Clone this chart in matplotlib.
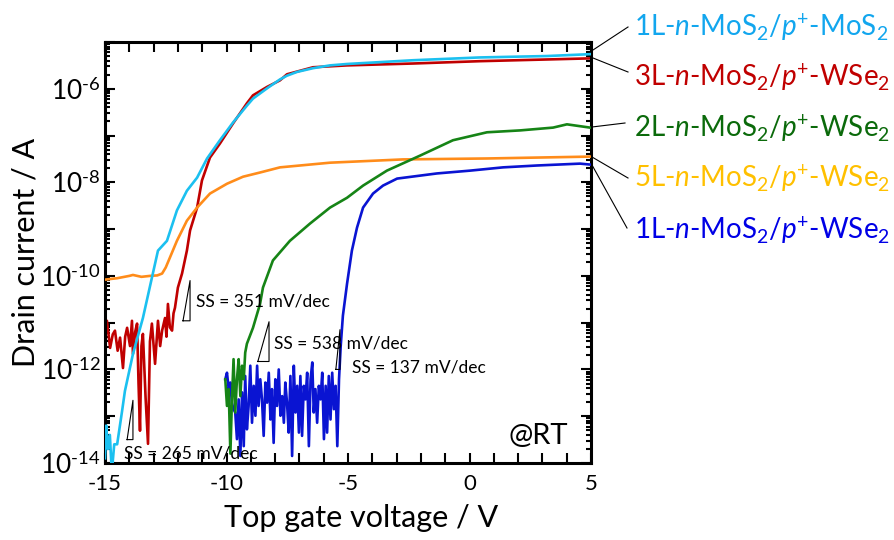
import numpy as np
import matplotlib
matplotlib.use("Agg")
import matplotlib.pyplot as plt
from matplotlib.ticker import LogLocator, FixedLocator, FuncFormatter, NullFormatter

FONT = "Lato"
plt.rcParams['font.family'] = [FONT, 'DejaVu Sans']
plt.rcParams['mathtext.fontset'] = 'custom'
plt.rcParams['mathtext.rm'] = FONT
plt.rcParams['mathtext.it'] = FONT + ':italic'
plt.rcParams['mathtext.bf'] = FONT + ':bold'
plt.rcParams['axes.unicode_minus'] = False

# ---------------- data (gate voltage V, log10 drain current A) ----------------
cyan_v = [-15.0, -14.95, -14.88, -14.8, -14.72, -14.62, -14.5, -14.3, -14.18, -13.85,
          -13.44, -13.07, -12.82, -12.45, -12.04, -11.63, -11.21, -10.8, -10.27, -9.73,
          -9.16, -8.91, -8.33, -7.8, -7.51, -7.1, -6.44, -5.74, -5.04, -3.68, -2.33, 0.43, 3.19, 4.96]
cyan_logi = [-13.9, -13.2, -13.7, -13.4, -14.2, -13.6, -13.6, -12.9, -12.46, -11.67,
             -10.9, -10.04, -9.46, -9.25, -8.6, -8.18, -7.9, -7.49, -7.1, -6.72,
             -6.36, -6.21, -5.99, -5.8, -5.72, -5.64, -5.56, -5.5, -5.47, -5.43, -5.39, -5.33, -5.3, -5.26]

red_v = [-15.0, -14.92, -14.79, -14.68, -14.59, -14.48, -14.38, -14.26, -14.17, -14.09, -13.97, -13.89,
         -13.85, -13.76, -13.68, -13.62, -13.56, -13.5, -13.44, -13.33, -13.23, -13.15, -13.07, -12.94,
         -12.82, -12.73, -12.65, -12.53, -12.47, -12.41, -12.33, -12.24, -12.18, -12.12, -12.0, -11.83,
         -11.63, -11.5, -11.21, -11.01, -10.68, -10.27, -9.73, -9.16, -8.91, -8.33, -7.8, -7.51,
         -6.44, -5.04, -2.33, 0.43, 4.96]
red_logi = [-11.4, -10.96, -11.54, -11.25, -11.17, -11.6, -11.32, -11.97, -11.3, -11.11, -11.5, -10.96,
            -11.67, -11.2, -11.02, -12.3, -13.31, -11.5, -11.24, -12.6, -13.59, -11.4, -11.02, -11.88,
            -10.96, -11.5, -11.17, -10.9, -11.3, -10.6, -11.1, -11.17, -10.8, -10.68, -10.25, -9.95,
            -9.46, -9.03, -8.54, -7.96, -7.47, -7.17, -6.74, -6.31, -6.14, -5.96, -5.82, -5.69,
            -5.54, -5.5, -5.46, -5.41, -5.35]

orange_v = [-15.0, -14.5, -14.0, -13.85, -13.5, -13.15, -12.85, -12.65, -12.5, -12.33, -12.04, -11.63,
            -11.21, -10.68, -9.98, -9.32, -8.62, -7.8, -5.74, -2.74, 0.72, 4.96]
orange_logi = [-10.08, -10.05, -10.0, -9.98, -10.02, -10.0, -9.99, -9.95, -9.82, -9.61, -9.25, -8.82,
               -8.54, -8.24, -8.03, -7.88, -7.79, -7.68, -7.58, -7.51, -7.49, -7.45]

green_v = [-10.05, -9.98, -9.91, -9.84, -9.78, -9.71, -9.64, -9.57, -9.5, -9.43, -9.36, -9.29,
           -9.23, -9.16, -8.91, -8.62, -8.5, -8.09, -7.39, -6.56, -5.74, -5.04, -4.38, -3.4,
           -2.04, -0.68, 0.72, 2.08, 3.44, 4.01, 4.96]
green_logi = [-12.21, -12.78, -12.42, -13.8, -12.71, -11.78, -12.92, -12.21, -11.78, -12.57, -11.92, -12.21,
              -11.64, -11.45, -11.11, -10.6, -10.25, -9.67, -9.25, -8.88, -8.54, -8.33, -8.07, -7.75,
              -7.43, -7.1, -6.93, -6.89, -6.83, -6.76, -6.83]

blue_v = [-10.05, -9.98, -9.91, -9.84, -9.78, -9.71, -9.64, -9.57, -9.50, -9.43, -9.36, -9.29,
          -9.23, -9.16, -9.09, -9.02, -8.95, -8.88, -8.81, -8.74, -8.68, -8.61, -8.54, -8.47,
          -8.40, -8.33, -8.26, -8.19, -8.13, -8.06, -7.99, -7.92, -7.85, -7.78, -7.71, -7.64,
          -7.58, -7.51, -7.44, -7.37, -7.30, -7.23, -7.16, -7.09, -7.02, -6.96, -6.89, -6.82,
          -6.75, -6.68, -6.61, -6.54, -6.47, -6.41, -6.34, -6.27, -6.20, -6.13, -6.06, -5.99,
          -5.92, -5.86, -5.79, -5.72, -5.65, -5.58, -5.51, -5.44, -5.37, -5.30,
          -5.21, -5.04, -4.84, -4.63, -4.38, -3.97, -3.56, -2.98, -1.34, 0.02, 1.38, 2.78, 4.55, 4.96]
blue_logi = [-12.21, -12.07, -12.42, -12.28, -12.71, -12.85, -12.92, -13.49, -12.64, -13.85, -12.49, -13.64,
             -12.14, -13.28, -12.78, -11.92, -13.14, -12.35, -12.99, -11.92, -12.78, -12.21, -12.64, -13.42,
             -12.28, -12.71, -12.07, -13.07, -12.42, -13.57, -12.21, -12.78, -12.0, -12.99, -12.57, -13.14,
             -12.28, -12.71, -13.35, -12.14, -13.85, -11.92, -12.92, -12.35, -13.35, -12.14, -13.42, -12.35,
             -12.64, -12.07, -13.64, -12.21, -11.85, -12.92, -12.42, -13.14, -12.35, -12.64, -12.07, -13.49,
             -12.35, -13.35, -12.14, -13.07, -12.07, -12.85, -12.35, -13.64, -12.21, -11.5,
             -10.85, -10.17, -9.46, -8.97, -8.54, -8.24, -8.07, -7.92, -7.81, -7.75, -7.68, -7.64, -7.6, -7.62]

series_labels = [r"1L-$\mathit{n}$-MoS$_2$/$\mathit{p}^{+}$-MoS$_2$",
                 r"3L-$\mathit{n}$-MoS$_2$/$\mathit{p}^{+}$-WSe$_2$",
                 r"2L-$\mathit{n}$-MoS$_2$/$\mathit{p}^{+}$-WSe$_2$",
                 r"5L-$\mathit{n}$-MoS$_2$/$\mathit{p}^{+}$-WSe$_2$",
                 r"1L-$\mathit{n}$-MoS$_2$/$\mathit{p}^{+}$-WSe$_2$"]
label_colors = ["#12a6ee", "#c00000", "#0b6a0b", "#ffc000", "#0000e6"]

ss_labels = ["SS = 351 mV/dec", "SS = 538 mV/dec", "SS = 137 mV/dec", "SS = 265 mV/dec"]

# ---------------- figure ----------------
W, H = 894, 540
fig = plt.figure(figsize=(W / 100, H / 100), dpi=100)
L, R, T, B = 105, 591, 42, 463
ax = fig.add_axes([L / W, 1 - B / H, (R - L) / W, (B - T) / H])

lw = 1.9
ax.plot(red_v, 10 ** np.array(red_logi), color="#c00000", lw=lw, zorder=2)
ax.plot(orange_v, 10 ** np.array(orange_logi), color="#ff8c1a", lw=lw, zorder=3)
ax.plot(blue_v, 10 ** np.array(blue_logi), color="#0a14d2", lw=lw, zorder=4)
ax.plot(green_v, 10 ** np.array(green_logi), color="#168416", lw=lw, zorder=5)
ax.plot(cyan_v, 10 ** np.array(cyan_logi), color="#1bc0f0", lw=lw, zorder=6)

ax.set_yscale("log")
ax.set_xlim(-15, 5)
ax.set_ylim(1e-14, 1e-5)

ax.xaxis.set_major_locator(FixedLocator([-15, -10, -5, 0, 5]))
ax.xaxis.set_minor_locator(FixedLocator(np.arange(-15, 6, 1)))
ax.xaxis.set_major_formatter(FuncFormatter(lambda v, p: "%d" % v))

ax.yaxis.set_major_locator(LogLocator(base=10, numticks=20))
ax.yaxis.set_minor_locator(LogLocator(base=10, subs=np.arange(2, 10), numticks=20))
ax.yaxis.set_minor_formatter(NullFormatter())

def yfmt(v, p):
    e = int(round(np.log10(v)))
    if e % 2 == 0:
        return r"$10^{\text{-}%d}$" % (-e)
    return ""
ax.yaxis.set_major_formatter(FuncFormatter(yfmt))

for s in ax.spines.values():
    s.set_linewidth(2.2)
ax.tick_params(which="both", direction="in", top=True, right=True, width=1.5)
ax.tick_params(axis="x", which="both", length=7, labelsize=16, pad=8)
ax.tick_params(axis="y", which="major", length=7, labelsize=19, pad=3)
ax.tick_params(axis="y", which="minor", length=3.5)

ax.set_xlabel("Top gate voltage / V", fontsize=22)
ax.xaxis.set_label_coords(0.527, -0.097)
ax.set_ylabel("Drain current / A", fontsize=22)
ax.yaxis.set_label_coords(-0.135, 0.5)

# SS slope triangles (in data coords: V, log10 I)
tri = [((-11.79, -10.96), (-11.50, -10.96), (-11.50, -10.10)),
       ((-8.71, -11.83), (-8.25, -11.83), (-8.25, -10.98)),
       ((-5.50, -12.0), (-5.33, -12.0), (-5.33, -11.15)),
       ((-14.09, -13.5), (-13.85, -13.5), (-13.85, -12.66))]
for t in tri:
    xs = [p[0] for p in t] + [t[0][0]]
    ys = [10 ** p[1] for p in t] + [10 ** t[0][1]]
    ax.plot(xs, ys, color="black", lw=0.8, zorder=7)

ss_pos = [(-11.25, -10.55), (-8.05, -11.45), (-4.85, -11.95), (-14.2, -13.8)]
for txt, (x, y) in zip(ss_labels, ss_pos):
    ax.text(x, 10 ** y, txt, fontsize=12.5, va="center", ha="left", zorder=8)

ax.text(0.952, 0.065, "@RT", transform=ax.transAxes, fontsize=21, ha="right", va="center")

# labels outside with leader lines (figure pixel coords)
def fx(x):
    return x / W
def fy(y):
    return 1 - y / H

lab_y = [27, 77, 128, 178, 230]
for lab, c, y in zip(series_labels, label_colors, lab_y):
    fig.text(fx(634), fy(y), lab, color=c, fontsize=20, ha="left", va="center")

leaders = [((593, 50), (628, 27)), ((593, 58), (628, 72)), ((592, 127), (625, 123)),
           ((592, 157), (628, 178)), ((592, 165), (627, 228))]
for (x0, y0), (x1, y1) in leaders:
    fig.add_artist(plt.Line2D([fx(x0), fx(x1)], [fy(y0), fy(y1)], transform=fig.transFigure,
                              color="black", lw=0.8))

fig.savefig("out.png", dpi=100)
